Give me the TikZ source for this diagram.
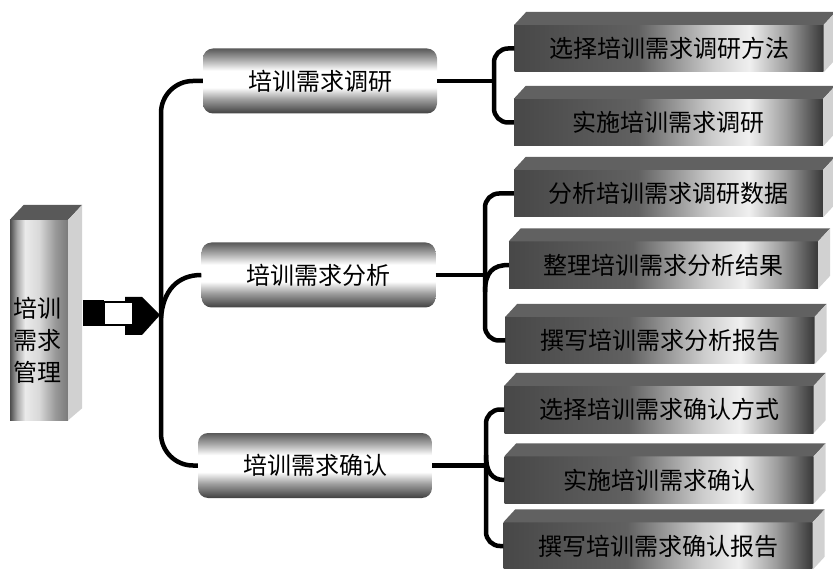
\documentclass[tikz,border=0pt]{standalone}
\usepackage{fontspec}
\setmainfont{Noto Sans CJK SC}
\usetikzlibrary{calc}

\pgfdeclarehorizontalshading{slabfront}{100bp}{color(0bp)=(black!72); color(25bp)=(black!72); color(45bp)=(black!62); color(57bp)=(black!20); color(63bp)=(black!6); color(69bp)=(black!38); color(75bp)=(black!78); color(100bp)=(black!78)}
\pgfdeclarehorizontalshading{column}{100bp}{color(0bp)=(black!70); color(25bp)=(black!70); color(31bp)=(black!35); color(38bp)=(black!8); color(50bp)=(black!15); color(64bp)=(black!40); color(75bp)=(black!52); color(100bp)=(black!52)}
\pgfdeclareverticalshading{pill}{100bp}{color(0bp)=(black!75); color(25bp)=(black!75); color(36bp)=(black!38); color(45bp)=(white); color(58bp)=(white); color(66bp)=(black!32); color(75bp)=(black!65); color(100bp)=(black!65)}

\newcommand\slabfaces[1]{%
  \fill[black!62] (#1.north west) -- ++(12,-13) -- ($(#1.north east)+(12,-13)$) -- (#1.north east) -- cycle;
  \fill[black!18] (#1.north east) -- ++(12,-13) -- ($(#1.south east)+(12,-13)$) -- (#1.south east) -- cycle;}

\begin{document}
\begin{tikzpicture}[x=1pt,y=-1pt,
  txt/.style={font=\fontsize{24}{28}\selectfont},
  pillbox/.style={txt, rounded corners=10pt, shading=pill, minimum width=234pt, minimum height=65pt, inner sep=0pt},
  slabbox/.style={txt, shading=slabfront, minimum width=309pt, minimum height=47pt, inner sep=0pt},
  colbox/.style={shading=column, minimum width=58pt, minimum height=200pt, inner sep=0pt},
  conn/.style={line width=4.5pt, black}]
\useasboundingbox (0,0) rectangle (833,569);

% left column
\node[colbox] (root) at (39,320) {};
\fill[black!65] (root.north west) -- ++(14,-15) -- ($(root.north east)+(14,-15)$) -- (root.north east) -- cycle;
\fill[black!18] (root.north east) -- ++(14,-15) -- ($(root.south east)+(14,-12)$) -- (root.south east) -- cycle;
\node[txt, align=center, inner sep=0pt, font=\fontsize{24}{32}\selectfont] (rootlabel) at (37,340) {培训\\需求\\管理};

% block arrow
\fill (83,300) rectangle (104,326);
\fill (125,297) -- (142,297) -- (160,315) -- (142,335) -- (125,335) -- cycle;
\draw[line width=1.2pt, fill=white] (104,302) rectangle (133,325);

% middle nodes
\node[pillbox] (m1) at (320,81) {培训需求调研};
\node[pillbox] (m2) at (318.5,275) {培训需求分析};
\node[pillbox] (m3) at (315,465.5) {培训需求确认};

% right slabs
\node[slabbox] (b1) at (669,48.5) {选择培训需求调研方法};
\node[slabbox] (b2) at (668.5,122.5) {实施培训需求调研};
\node[slabbox] (b3) at (668.5,193.5) {分析培训需求调研数据};
\node[slabbox] (b4) at (663.5,265) {整理培训需求分析结果};
\node[slabbox] (b5) at (660,340.5) {撰写培训需求分析报告};
\node[slabbox] (b6) at (659,409.5) {选择培训需求确认方式};
\node[slabbox] (b7) at (659,480) {实施培训需求确认};
\node[slabbox] (b8) at (658,546) {撰写培训需求确认报告};
\slabfaces{b1}\slabfaces{b2}\slabfaces{b3}\slabfaces{b4}
\slabfaces{b5}\slabfaces{b6}\slabfaces{b7}\slabfaces{b8}

% main trunk
\coordinate (t1) at (161,81);
\coordinate (t3) at (161,465.5);
\draw[conn, rounded corners=32pt] (m1.west) -- (t1) -- (t3) -- (m3.west);
\coordinate (tip) at (161,318);
\draw[conn] (tip) .. controls (163,290) and (178,275) .. (m2.west);

% group 1
\coordinate (j1) at (494,81);
\coordinate (j1b) at (494,122.5);
\draw[conn] (m1.east) -- (m1.east -| j1);
\draw[conn, rounded corners=14pt] (b1.west) -| (j1b) -- (b2.west);

% group 2
\coordinate (j2) at (485,275);
\coordinate (j2b) at (485,340.5);
\coordinate (j2m) at (485,292);
\draw[conn] (m2.east) -- (m2.east -| j2);
\draw[conn, rounded corners=14pt] (b3.west) -| (j2b) -- (b5.west);
\draw[conn] (j2m) .. controls (485,272) and (493,265) .. (b4.west);

% group 3
\coordinate (j3) at (486,465.5);
\coordinate (j3b) at (486,546);
\coordinate (j3m) at (486,455);
\draw[conn] (m3.east) -- (m3.east -| j3);
\draw[conn, rounded corners=14pt] (b6.west) -| (j3b) -- (b8.west);
\draw[conn] (j3m) .. controls (486,472) and (492,480) .. (b7.west);
\end{tikzpicture}
\end{document}
